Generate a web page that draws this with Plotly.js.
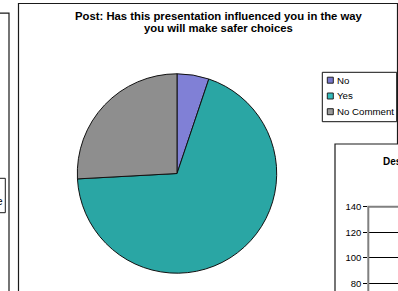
<!DOCTYPE html>
<html>
<head>
<meta charset="utf-8">
<script src="https://cdn.plot.ly/plotly-3.0.1.min.js"></script>
<style>html,body{margin:0;padding:0;background:#fff}#chart{width:398px;height:291px}</style>
</head>
<body>
<div id="chart"></div>
<script>
// ---- data ----
var categories = ["No", "Yes", "No Comment"];
var responses = [3, 40, 15];
var sliceColors = ["#8080d6", "#2aa6a4", "#8e8e8e"];
var swatchColors = ["#7777cc", "#33bbbb", "#999999"];
var titleLines = ["Post: Has this presentation influenced you in the way", "you will make safer choices"];
var rightTitle = "Des";
var leftLegendText = "e";
var rightTicks = [80, 100, 120, 140];

var W = 398, H = 291;
function px(x){ return x / W; }
function py(y){ return 1 - y / H; }

var FONT = "Arial, 'Liberation Sans', sans-serif";

// pie geometry (pixels)
var cx = 177, cy = 173.5, r = 99.7;

var traces = [{
  type: "pie",
  labels: categories,
  values: responses,
  sort: false,
  direction: "clockwise",
  rotation: 0,
  textinfo: "none",
  hoverinfo: "label+value+percent",
  marker: { colors: sliceColors, line: { color: "#111", width: 1 } },
  domain: { x: [px(cx - r), px(cx + r)], y: [py(cy + r), py(cy - r)] },
  showlegend: false
}, {
  type: "scatter",
  x: [], y: [],
  xaxis: "x2", yaxis: "y2",
  showlegend: false
}];

var shapes = [];
var annotations = [];

// main chart frame
shapes.push({ type: "rect", xref: "paper", yref: "paper", layer: "below",
  x0: px(18.5), x1: px(397.5), y0: py(3.5), y1: py(300),
  line: { color: "#1a1a1a", width: 1.2 }, fillcolor: "rgba(0,0,0,0)" });
// left partial chart frame
shapes.push({ type: "rect", xref: "paper", yref: "paper", layer: "below",
  x0: px(-10), x1: px(9), y0: py(13.2), y1: py(300),
  line: { color: "#1a1a1a", width: 1.2 }, fillcolor: "rgba(0,0,0,0)" });
// left partial legend box
shapes.push({ type: "rect", xref: "paper", yref: "paper", layer: "below",
  x0: px(-10), x1: px(5.3), y0: py(178.3), y1: py(212.7),
  line: { color: "#1a1a1a", width: 1 }, fillcolor: "#fff" });
// right partial chart frame (on top of main frame)
shapes.push({ type: "rect", xref: "paper", yref: "paper", layer: "below",
  x0: px(335), x1: px(410), y0: py(144), y1: py(300),
  line: { color: "#1a1a1a", width: 1.2 }, fillcolor: "#fff" });
// right chart plot-area border
shapes.push({ type: "rect", xref: "paper", yref: "paper", layer: "above",
  x0: px(368.3), x1: px(420), y0: py(206.7), y1: py(300),
  line: { color: "#808080", width: 2 }, fillcolor: "rgba(0,0,0,0)" });

// legend (built from categories)
var legX0 = 322.3, legX1 = 396.7, legY0 = 72.3, legY1 = 121.7;
shapes.push({ type: "rect", xref: "paper", yref: "paper", layer: "above",
  x0: px(legX0), x1: px(legX1), y0: py(legY0), y1: py(legY1),
  line: { color: "#111", width: 1 }, fillcolor: "#fff" });
var legRows = [80.2, 96, 111.7];
categories.forEach(function(c, i){
  var yc = legRows[i];
  shapes.push({ type: "rect", xref: "paper", yref: "paper", layer: "above",
    x0: px(327.3), x1: px(333.3), y0: py(yc - 3), y1: py(yc + 3),
    line: { color: "#222", width: 1 }, fillcolor: swatchColors[i] });
  annotations.push({ xref: "paper", yref: "paper", x: px(334.6), y: py(yc),
    xanchor: "left", yanchor: "middle", showarrow: false, text: c,
    font: { family: FONT, size: 9.7, color: "#000" } });
});

// title lines
var titleY = [16.3, 28];
titleLines.forEach(function(t, i){
  annotations.push({ xref: "paper", yref: "paper", x: px(218.5), y: py(titleY[i]),
    xanchor: "center", yanchor: "middle", showarrow: false, text: "<b>" + t + "</b>",
    font: { family: FONT, size: 11.3, color: "#000" } });
});

// right partial chart title
annotations.push({ xref: "paper", yref: "paper", x: px(380.5), y: py(161.7),
  xanchor: "left", yanchor: "middle", showarrow: false, text: "<b>" + rightTitle + "</b>",
  font: { family: FONT, size: 10, color: "#000" } });
// left partial legend text
annotations.push({ xref: "paper", yref: "paper", x: px(5), y: py(201.7),
  xanchor: "right", yanchor: "middle", showarrow: false, text: leftLegendText,
  font: { family: FONT, size: 10, color: "#000" } });

var layout = {
  width: W, height: H,
  margin: { l: 0, r: 0, t: 0, b: 0, pad: 0 },
  paper_bgcolor: "#fff",
  plot_bgcolor: "rgba(0,0,0,0)",
  showlegend: false,
  xaxis2: { domain: [px(368.3), 1], anchor: "y2", range: [0, 1],
    showline: false, showgrid: false, zeroline: false, showticklabels: false, ticks: "" },
  yaxis2: { domain: [0, py(206.7)], anchor: "x2", range: [74, 140],
    tickvals: rightTicks, ticktext: rightTicks.map(String),
    ticks: "outside", ticklen: 4, tickcolor: "#000", tickwidth: 1,
    showgrid: true, gridcolor: "#000", gridwidth: 1,
    zeroline: false, showline: false,
    tickfont: { family: FONT, size: 9.5, color: "#000" } },
  shapes: shapes,
  annotations: annotations
};

Plotly.newPlot("chart", traces, layout, { staticPlot: true, displayModeBar: false });
</script>
</body>
</html>
